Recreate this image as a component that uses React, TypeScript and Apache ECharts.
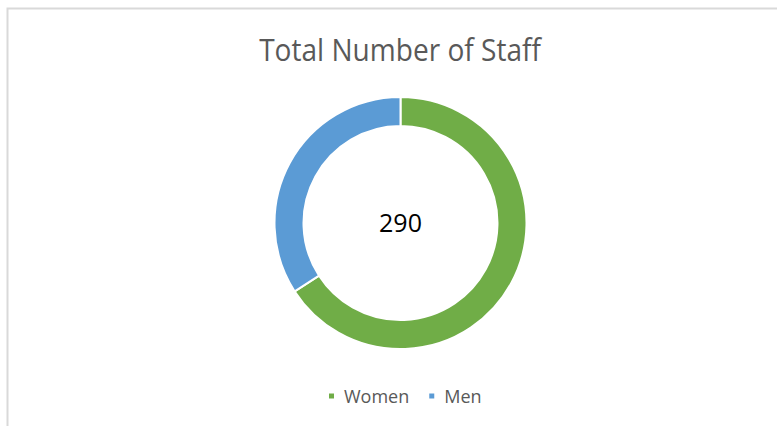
import React, { useEffect, useRef } from "react";
import * as echarts from "echarts";

const categories = ["Women", "Men"];
const values = [191, 99];
const colors = ["#70AD47", "#5B9BD5"];
const titleText = "Total Number of Staff";

export default function App() {
  const ref = useRef<HTMLDivElement>(null);
  useEffect(() => {
    if (!ref.current) return;
    const chart = echarts.init(ref.current, undefined, { renderer: "svg" });
    const total = values.reduce((a, b) => a + b, 0);
    chart.setOption({
      animation: false,
      backgroundColor: "#ffffff",
      legend: {
        data: categories,
        top: 387,
        left: 327,
        padding: 0,
        icon: "rect",
        itemWidth: 7,
        itemHeight: 7,
        itemGap: 18,
        textStyle: {
          fontFamily: "Open Sans",
          fontSize: 18,
          color: "#595959",
          padding: [0, 0, 0, 4],
        },
      },
      graphic: [
        {
          type: "polyline",
          shape: { points: [[7.5, 426], [7.5, 8.5], [777, 8.5]] },
          style: { stroke: "#d9d9d9", lineWidth: 2, fill: "none" },
          silent: true,
        },
        {
          type: "text",
          x: 400,
          y: 49.5,
          scaleX: 0.92,
          style: {
            text: titleText,
            fontFamily: "Open Sans",
            fontSize: 30.5,
            fill: "#595959",
            textAlign: "center",
            textVerticalAlign: "middle",
          },
        },
        {
          type: "text",
          x: 400.5,
          y: 222,
          style: {
            text: String(total),
            fontFamily: "Open Sans",
            fontSize: 25,
            fill: "#000000",
            textAlign: "center",
            textVerticalAlign: "middle",
          },
        },
      ],
      series: [
        {
          type: "pie",
          center: [400.5, 223],
          radius: [97, 126],
          startAngle: 90,
          clockwise: true,
          label: { show: false },
          labelLine: { show: false },
          emphasis: { disabled: true },
          itemStyle: { borderColor: "#ffffff", borderWidth: 2 },
          data: categories.map((c, i) => ({
            name: c,
            value: values[i],
            itemStyle: { color: colors[i] },
          })),
        },
      ],
    });
    return () => chart.dispose();
  }, []);
  return (
    <div
      ref={ref}
      style={{ position: "fixed", left: 0, top: 0, width: 777, height: 426 }}
    />
  );
}
